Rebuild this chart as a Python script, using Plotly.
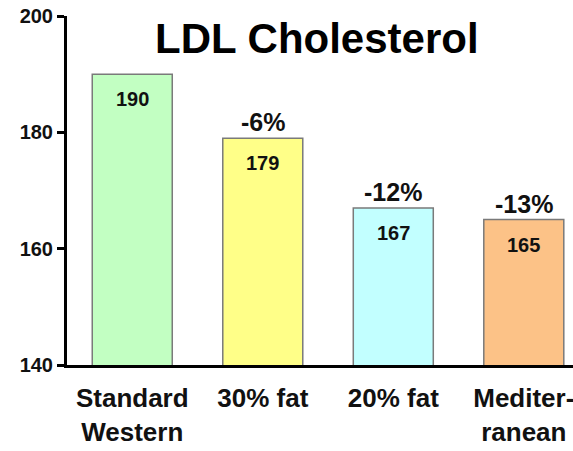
import plotly.graph_objects as go

# Diet groups and their mean LDL cholesterol (mg/dL)
diets = ["Standard<br>Western", "30% fat", "20% fat", "Mediter-<br>ranean"]
ldl = [190, 179, 167, 165]
changes = ["", "-6%", "-12%", "-13%"]

bar_colors = ["#c2ffc2", "#ffff88", "#c2ffff", "#fcc287"]

fig = go.Figure()
fig.add_trace(go.Bar(
    x=diets,
    y=ldl,
    width=0.613,
    marker=dict(color=bar_colors, line=dict(color="#7a7a7a", width=1.5)),
    hoverinfo="skip",
))

bold = "Liberation Sans, Arial, sans-serif"

# value printed just inside the top of each bar
for d, v in zip(diets, ldl):
    fig.add_annotation(x=d, y=v, text=str(v), showarrow=False,
                       yanchor="middle", yshift=-25,
                       font=dict(family=bold, size=20, color="#111", weight="bold"))

# percent change above each bar
for d, v, c in zip(diets, ldl, changes):
    if c:
        fig.add_annotation(x=d, y=v, text=c, showarrow=False,
                           yanchor="bottom", yshift=0,
                           font=dict(family=bold, size=25, color="#111", weight="bold"))

fig.add_annotation(xref="paper", yref="paper", x=0.494, y=1, yshift=-22,
                   text="LDL Cholesterol", showarrow=False, yanchor="middle",
                   font=dict(family=bold, size=42, color="#000", weight="bold"))

fig.update_layout(
    width=573, height=451,
    margin=dict(l=67, r=0, t=16, b=86),
    paper_bgcolor="white", plot_bgcolor="white",
    showlegend=False,
)
fig.update_xaxes(
    range=[-0.5, 3.377], showline=True, linewidth=3, linecolor="black",
    ticks="", showgrid=False, zeroline=False, ticklabelstandoff=8,
    tickfont=dict(family=bold, size=26, color="#111", weight="bold"),
)
fig.update_yaxes(
    range=[140, 200], tickvals=[140, 160, 180, 200],
    showline=True, linewidth=3, linecolor="black",
    ticks="outside", ticklen=7, tickwidth=3, tickcolor="black",
    showgrid=False, zeroline=False,
    tickfont=dict(family=bold, size=20, color="#111", weight="bold"),
)

fig.write_html("out.html")
